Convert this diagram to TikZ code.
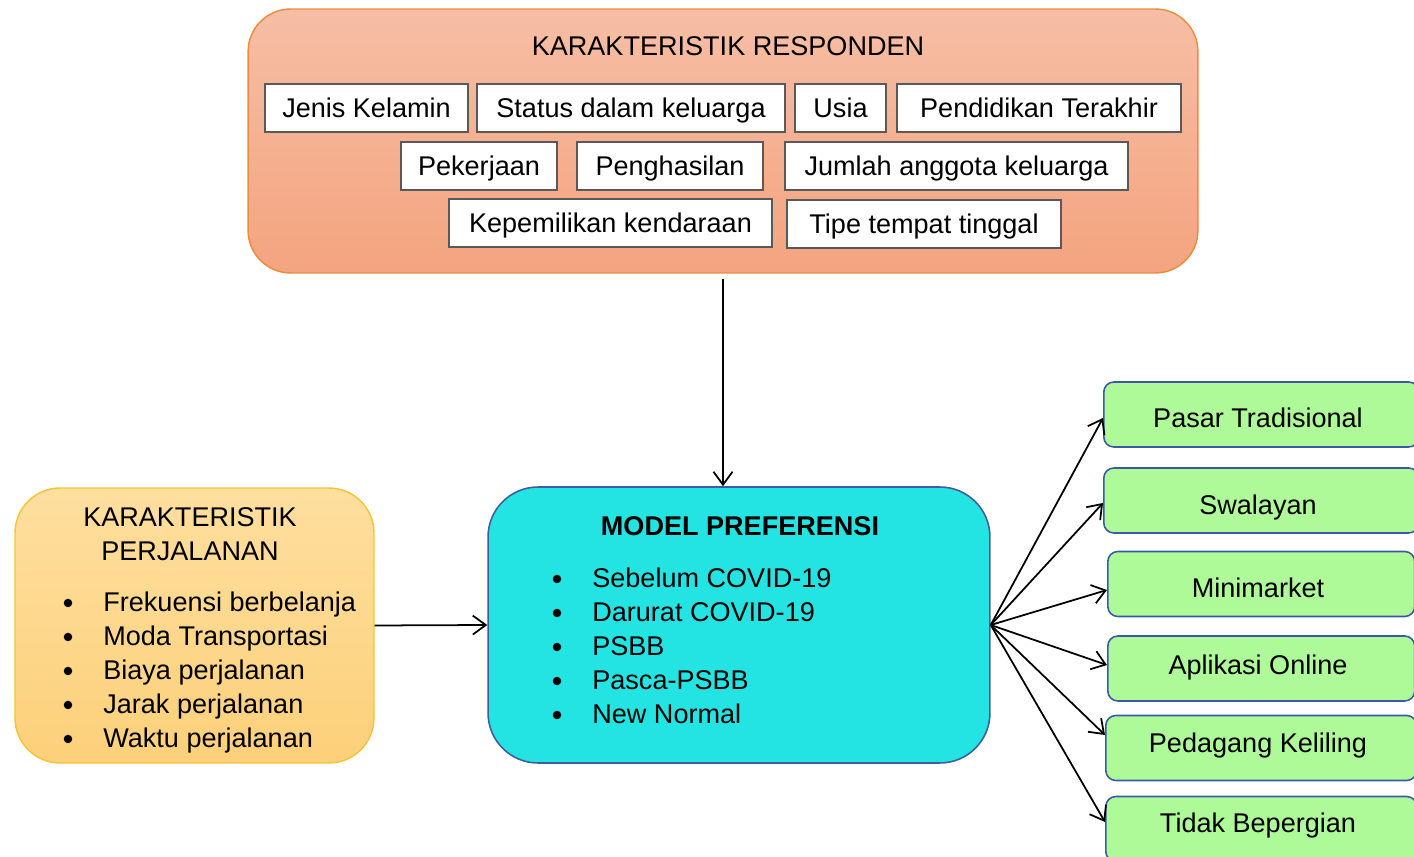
\documentclass[tikz,border=0pt]{standalone}
\usepackage{fontspec}
\setmainfont{Liberation Sans}
\usetikzlibrary{positioning}
\usetikzlibrary{arrows.meta}
\definecolor{respTop}{HTML}{F6BEA5}
\definecolor{respBot}{HTML}{F4A47F}
\definecolor{respLine}{HTML}{EE8A3A}
\definecolor{tripTop}{HTML}{FEDF9F}
\definecolor{tripBot}{HTML}{FDD07A}
\definecolor{tripLine}{HTML}{F8C232}
\definecolor{modelFill}{HTML}{23E4E3}
\definecolor{modelLine}{HTML}{3F5E9E}
\definecolor{optFill}{HTML}{AEFA98}
\definecolor{optLine}{HTML}{3B5AA6}
\begin{document}
\begin{tikzpicture}[x=0.02cm, y=-0.02cm,
    every node/.style={font=\fontsize{15.4}{19.4}\selectfont},
    flat/.style={text height=11pt, text depth=0pt},
    attrbox/.style={flat, draw=black!65, fill=white, line width=0.7pt, inner sep=0pt, minimum height=0.96cm},
    optbox/.style={draw=optLine, fill=optFill, line width=0.9pt, rounded corners=0.2cm, inner sep=0pt, minimum height=1.3cm, anchor=west},
    dot/.style={circle, fill=black, inner sep=0pt, minimum size=0.17cm},
    arr/.style={-{Straight Barb[length=0.26cm, width=0.38cm]}, line width=1pt}]
    \clip (0,0) rectangle (1414,857);
    % karakteristik responden
    \node[draw=respLine, top color=respTop, bottom color=respBot, line width=0.8pt, rounded corners=0.85cm,
          minimum width=19cm, minimum height=5.28cm] (resp) at (723,141) {};
    \node (respTitle) at (728,46) {KARAKTERISTIK RESPONDEN};
    \foreach \n/\x/\y/\w/\t in {jk/366.5/108/4.06/Jenis Kelamin, status/631/108/6.16/Status dalam keluarga,
            usia/840.5/108/1.82/Usia, didik/1039/108/5.68/Pendidikan Terakhir,
            kerja/479/166/3.12/Pekerjaan, hasil/670/166/3.72/Penghasilan, jumlah/956.5/166/6.86/Jumlah anggota keluarga,
            milik/610.5/223/6.46/Kepemilikan kendaraan, tipe/924/224/5.48/Tipe tempat tinggal} {
        \node[attrbox, minimum width=\w cm] (\n) at (\x,\y) {\t};
    }
    % karakteristik perjalanan
    \node[draw=tripLine, top color=tripTop, bottom color=tripBot, line width=0.8pt, rounded corners=0.9cm,
          minimum width=7.18cm, minimum height=5.5cm] (trip) at (194.5,625.5) {};
    \node[align=center] (tripTitle) at (190,534) {KARAKTERISTIK\\PERJALANAN};
    \foreach \t [count=\i from 0] in {Frekuensi berbelanja, Moda Transportasi, Biaya perjalanan, Jarak perjalanan, Waktu perjalanan} {
        \node[dot] (tripDot\i) at (68,603+34*\i) {};
        \node[flat, anchor=west, inner sep=0pt] (tripItem\i) at (103,602+34*\i) {\t};
    }
    % model preferensi
    \node[draw=modelLine, fill=modelFill, line width=0.9pt, rounded corners=1cm,
          minimum width=10.04cm, minimum height=5.52cm] (model) at (739,625) {};
    \node (modelTitle) at (740,526) {\textbf{MODEL PREFERENSI}};
    \foreach \t [count=\i from 0] in {Sebelum COVID-19, Darurat COVID-19, PSBB, Pasca-PSBB, New Normal} {
        \node[dot] (modelDot\i) at (557,579+34*\i) {};
        \node[flat, anchor=west, inner sep=0pt] (modelItem\i) at (592,578+34*\i) {\t};
    }
    % pilihan belanja
    \foreach \n/\x/\y/\ty/\ay/\w/\t in {pasar/1103/414.5/418/418/6.3/Pasar Tradisional, swalayan/1103/500.5/505/503/6.3/Swalayan,
            mini/1107/584/588/590/6.14/Minimarket, aplikasi/1107/668.5/665/665/6.14/Aplikasi Online,
            pedagang/1105/748/743/735/6.22/Pedagang Keliling, tidak/1105/829/823/822/6.22/Tidak Bepergian} {
        \node[optbox, minimum width=\w cm] (\n) at (\x,\y) {};
        \node[flat] (\n Text) at (1258,\ty) {\t};
        \draw[arr] (model.east) -- (\n.west |- 0,\ay);
    }
    \draw[arr, shorten <=0.1cm] (resp.south) -- (resp.south |- model.north);
    \draw[arr] (trip.east) -- (model.west);
\end{tikzpicture}
\end{document}
